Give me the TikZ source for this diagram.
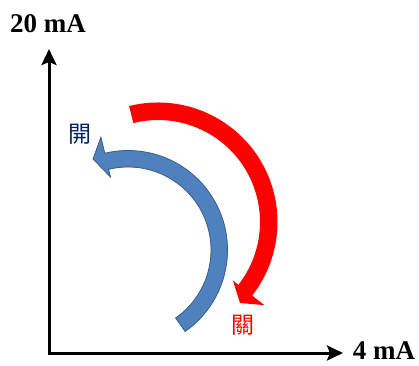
\documentclass[tikz,border=0pt]{standalone}
\usepackage{fontspec}
\setmainfont{Liberation Serif}
\newfontfamily\cjk{Noto Sans CJK TC}
\usetikzlibrary{arrows.meta,calc}
\definecolor{arrowblue}{HTML}{4F81BD}
\definecolor{arrowblueedge}{HTML}{385D8A}
\definecolor{navytext}{HTML}{002060}
\definecolor{pured}{HTML}{FF0000}
\tikzset{
  axisline/.style={line width=3pt,{Stealth[length=16pt,width=15pt,inset=3pt]}-{Stealth[length=16pt,width=15pt,inset=3pt]}},
  axislabel/.style={font=\fontsize{27}{30}\selectfont\bfseries,inner sep=0pt},
  cjklabel/.style={font=\cjk\fontsize{23}{25}\selectfont,inner sep=0pt},
  bluearrow/.style={fill=arrowblue,draw=arrowblueedge,line width=0.8pt,line join=miter},
  redarrow/.style={fill=pured,draw=none}
}
\begin{document}
\begin{tikzpicture}[x=1pt,y=1pt]
\useasboundingbox (0,0) rectangle (419,365);
% axes
\coordinate (corner) at (49,12);
\coordinate (ytip) at (49,316);
\coordinate (xtip) at (343,12);
\draw[axisline] (ytip) -- (corner) -- (xtip);
\node[axislabel] (ylab) at (48,341) {20 mA};
\node[axislabel] (xlab) at (384,14) {4 mA};
% blue arrow (open)
\coordinate (cb) at (128,115);
\coordinate (tipb) at (93,206);
\draw[bluearrow] ($(cb)+(-55:99.5)$) arc[start angle=-55,end angle=103.5,radius=99.5]
  -- ($(cb)+(103.5:116)$) -- (tipb) -- ($(cb)+(103.5:75)$)
  -- ($(cb)+(103.5:83)$) arc[start angle=103.5,end angle=-55,radius=83] -- cycle;
% red arrow (close)
\coordinate (cr) at (158,143);
\coordinate (tipr) at (240,62);
\fill[redarrow] ($(cr)+(104:119.5)$) arc[start angle=104,end angle=-38,radius=119.5]
  -- ($(cr)+(-38:135)$) -- (tipr) -- ($(cr)+(-38:95)$)
  -- ($(cr)+(-38:102)$) arc[start angle=-38,end angle=104,radius=102] -- cycle;
% labels
\node[cjklabel,text=navytext] (open) at (80,231) {開};
\node[cjklabel,text=pured] (close) at (243,40) {關};
\end{tikzpicture}
\end{document}
